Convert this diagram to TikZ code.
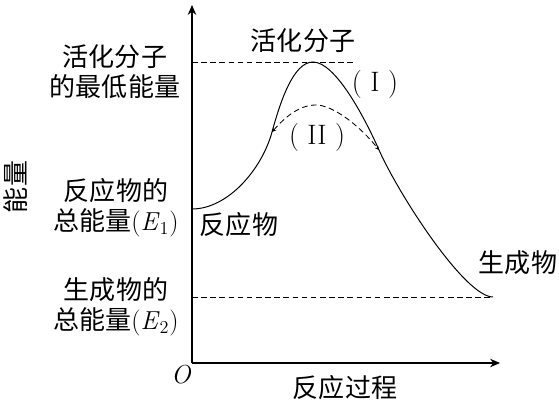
\documentclass[tikz,border=0pt]{standalone}
\usepackage{fontspec}
\newfontfamily\cjk{Noto Sans CJK SC}
\usetikzlibrary{arrows.meta}
\newcommand{\lvl}[1]{{\rmfamily(\textit{E}\textsubscript{#1})}}
\newcommand{\routenum}[1]{{\rmfamily\fontsize{20}{22}\selectfont(\hspace{0.3em}#1\hspace{0.3em})}}

\begin{document}
\begin{tikzpicture}[x=0.025cm,y=0.025cm,
    lbl/.style={font=\cjk\fontsize{18.5}{21.3}\selectfont, align=center, inner sep=0pt},
    dsh/.style={dash pattern=on 4pt off 2.5pt, line width=0.6pt},
    axis/.style={line width=0.9pt, -{Stealth[length=7pt,width=6pt]}}]
    \useasboundingbox (0,0) rectangle (559,401);
    % 坐标轴
    \coordinate (o) at (192,38);
    \coordinate (ytop) at (192,396);
    \coordinate (xend) at (500,38);
    \draw[axis] (o) -- (ytop);
    \draw[axis] (o) -- (xend);
    % 关键点
    \coordinate (r) at (192,192);
    \coordinate (pk) at (313,339);
    \coordinate (pk2) at (316,296);
    \coordinate (p) at (493,104);
    \coordinate (b1) at (272,269);
    \coordinate (b2) at (379,251);
    \coordinate (ea) at (192,339);
    \coordinate (eaend) at (355,339);
    \coordinate (e2) at (192,104);
    % 虚线
    \draw[dsh] (ea) -- (eaend);
    \draw[dsh] (e2) -- (p);
    % 曲线 (I)
    \draw[line width=0.7pt] (r) .. controls (228,192) and (262,232) .. (b1)
        .. controls (280,298) and (293,339) .. (pk)
        .. controls (335,339) and (364,285) .. (b2)
        .. controls (399,206) and (465,104) .. (p);
    % 曲线 (II)
    \draw[dsh, {Stealth[length=3pt,width=3pt]}-{Stealth[length=3pt,width=3pt]}] (b1)
        .. controls (286,285) and (300,296) .. (pk2)
        .. controls (333,296) and (360,275) .. (b2);
    % 文字
    \node[lbl] (act) at (303,360) {活化分子};
    \node[lbl] (one) at (375,317) {\routenum{I}};
    \node[lbl] (two) at (317,264) {\routenum{II}};
    \node[lbl] (actl) at (115,329) {活化分子\\的最低能量};
    \node[lbl] (e1l) at (116,193) {反应物的\\总能量\lvl{1}};
    \node[lbl] (e2l) at (116,94) {生成物的\\总能量\lvl{2}};
    \node[lbl] (rl) at (239,176) {反应物};
    \node[lbl] (pl) at (518,138) {生成物};
    \node[lbl] (xl) at (345,13) {反应过程};
    \node[lbl, rotate=90] (yl) at (16,214) {能量};
    \node[lbl] (ol) at (181,26) {\rmfamily\itshape O};
\end{tikzpicture}
\end{document}
